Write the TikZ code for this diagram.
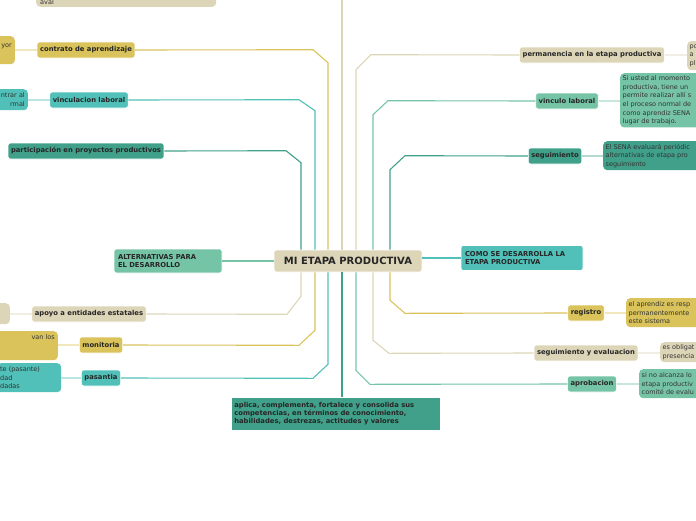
\documentclass[tikz,border=0pt]{standalone}
\usepackage{fontspec}
\setmainfont{DejaVu Sans}
\usepackage{tikz}
\usetikzlibrary{positioning,calc}
\definecolor{tanc}{HTML}{DDD5B8}
\definecolor{ylwc}{HTML}{D9C35A}
\definecolor{tealc}{HTML}{50C0B8}
\definecolor{grnc}{HTML}{76C4A6}
\definecolor{dtealc}{HTML}{40A08A}
\tikzset{
  topic/.style={rectangle, rounded corners=2.5pt, fill=#1, draw=white, line width=0.6pt, inner sep=3pt, font=\fontsize{6.8}{8}\selectfont\bfseries, text=black!85},
  leaf/.style={rectangle, rounded corners=4pt, fill=#1, inner sep=2.5pt, font=\fontsize{6.5}{8.6}\selectfont, text=black!80},
  link/.style={draw=#1, line width=1.1pt},
  faint/.style={draw=#1!40, line width=1.4pt}
}
\begin{document}
\begin{tikzpicture}[x=1pt, y=-1pt]
  \useasboundingbox (0,0) rectangle (696,520);
  \clip (0,0) rectangle (696,520);
  % Central topic
  \node [topic=tanc, minimum width=148pt, minimum height=22pt, font=\fontsize{10}{12}\selectfont\bfseries] (root) at (348,261) {MI ETAPA PRODUCTIVA};
  \node [topic=grnc, minimum width=108pt, minimum height=24pt, align=flush left, text width=100pt] (alt) at (168,261) {ALTERNATIVAS PARA\\EL DESARROLLO};
  \node [topic=tealc, minimum width=122pt, minimum height=25pt, align=flush left, text width=114pt] (como) at (522,258) {COMO SE DESARROLLA LA\\ETAPA PRODUCTIVA};
  \node [topic=dtealc, anchor=north west, minimum width=209pt, minimum height=33pt, align=flush left, text width=203pt, rounded corners=0pt] (bot) at (231,397) {aplica, complementa, fortalece y consolida sus competencias, en términos de conocimiento, habilidades, destrezas, actitudes y valores};
  \node [leaf=tanc, anchor=south west, minimum width=180pt, align=flush left, text width=172pt] (aval) at (36,7) {\phantom{x}\\aval};

  % Left branches
  \node [topic=ylwc, minimum height=16pt] (contrato) at (86,50) {contrato de aprendizaje};
  \node [topic=tealc, minimum height=16pt] (vinc) at (89,100) {vinculacion laboral};
  \node [topic=dtealc, minimum height=16pt] (proy) at (86,151) {participación en proyectos productivos};
  \node [topic=tanc, minimum height=16pt] (apoyo) at (89,314) {apoyo a entidades estatales};
  \node [topic=ylwc, minimum height=16pt] (monit) at (101,345) {monitoria};
  \node [topic=tealc, minimum height=16pt] (pasan) at (101,378) {pasantia};

  % Right branches
  \node [topic=tanc, minimum height=16pt] (perm) at (592,55) {permanencia en la etapa productiva};
  \node [topic=grnc, minimum height=16pt] (vlab) at (567,101) {vinculo laboral};
  \node [topic=dtealc, minimum height=16pt] (segui) at (555,156) {seguimiento};
  \node [topic=ylwc, minimum height=16pt] (regis) at (586,313) {registro};
  \node [topic=tanc, minimum height=16pt] (seval) at (586,353) {seguimiento y evaluacion};
  \node [topic=grnc, minimum height=16pt] (aprob) at (592,384) {aprobacion};

  % Leaves
  \node [leaf=ylwc, anchor=north east, minimum width=40pt, minimum height=28pt, align=right, text width=34pt] (contratoL) at (15,36) {yor\\\phantom{x}};
  \node [leaf=tealc, anchor=north east, minimum width=40pt, minimum height=21pt, align=right, text width=34pt] (vincL) at (28,89) {ntrar al\\rmal};
  \node [leaf=tanc, anchor=north east, minimum width=30pt, minimum height=21pt] (apoyoL) at (10,303) {};
  \node [leaf=ylwc, anchor=north east, minimum width=64pt, minimum height=29pt, align=right, text width=58pt] (monitL) at (58,331) {van los\hspace{36pt}\\\phantom{x}\\\phantom{x}};
  \node [leaf=tealc, anchor=north west, minimum width=64pt, minimum height=29pt, align=flush left, text width=58pt] (pasanL) at (-3,363) {te (pasante)\\dad\\dadas};
  \node [leaf=tanc, anchor=north west, minimum height=29pt, align=flush left, text width=40pt] (permL) at (687,41) {po\\a\\pl};
  \node [leaf=grnc, anchor=north west, minimum height=54pt, align=flush left, text width=90pt] (vlabL) at (620,73) {Si usted al momento\\productiva, tiene un\\permite realizar allí s\\el proceso normal de\\como aprendiz SENA\\lugar de trabajo.};
  \node [leaf=dtealc, anchor=north west, minimum height=29pt, align=flush left, text width=100pt] (seguiL) at (603,141) {El SENA evaluará periódic\\alternativas de etapa pro\\seguimiento};
  \node [leaf=ylwc, anchor=north west, minimum height=29pt, align=flush left, text width=90pt] (regisL) at (626,298) {el aprendiz es resp\\permanentemente\\este sistema};
  \node [leaf=tanc, anchor=north west, minimum height=20pt, align=flush left, text width=60pt] (sevalL) at (660,342) {es obligat\\presencia};
  \node [leaf=grnc, anchor=north west, minimum height=29pt, align=flush left, text width=80pt] (aprobL) at (639,369) {si no alcanza lo\\etapa productiv\\comité de evalu};

  % Main connectors
  \draw [link=grnc] (root.west) -- (alt.east);
  \draw [link=tealc] (root.east |- como.west) -- (como.west);
  \draw [link=tanc] ([xshift=-6pt]root.north) -- ++(0,-270);
  \draw [link=dtealc] ([xshift=-6pt]root.south) -- ([xshift=-6pt]root.south |- bot.north);
  \draw [link=ylwc] ([xshift=-20pt]root.north) -- ++(0,-187) -- ++(-15,-13) -- (contrato.east);
  \draw [link=tealc] ([xshift=-33pt]root.north) -- ++(0,-139) -- ++(-16,-11) -- (vinc.east);
  \draw [link=dtealc] ([xshift=-47pt]root.north) -- ++(0,-87) -- ++(-15,-12) -- (proy.east);
  \draw [link=tanc] ([xshift=-47pt]root.south) -- ++(0,24) -- ++(-14,18) -- (apoyo.east);
  \draw [link=ylwc] ([xshift=-33pt]root.south) -- ++(0,58) -- ++(-16,15) -- (monit.east);
  \draw [link=tealc] ([xshift=-20pt]root.south) -- ++(0,92) -- ++(-15,14) -- (pasan.east);
  \draw [link=tanc] ([xshift=8pt]root.north) -- ++(0,-180) -- ++(15,-15) -- (perm.west);
  \draw [link=grnc] ([xshift=25pt]root.north) -- ++(0,-135) -- ++(15,-14) -- (vlab.west);
  \draw [link=dtealc] ([xshift=42pt]root.north) -- ++(0,-80) -- ++(15,-14) -- (segui.west);
  \draw [link=ylwc] ([xshift=42pt]root.south) -- ++(0,28) -- ++(15,13) -- (regis.west);
  \draw [link=tanc] ([xshift=25pt]root.south) -- ++(0,68) -- ++(16,13) -- (seval.west);
  \draw [link=grnc] ([xshift=8pt]root.south) -- ++(0,98) -- ++(14,14) -- (aprob.west);

  % Leaf connectors
  \draw [faint=ylwc] (contrato.west) -- (contrato.west -| contratoL.east);
  \draw [faint=tealc] (vinc.west) -- (vinc.west -| vincL.east);
  \draw [faint=tanc] (apoyo.west) -- (apoyo.west -| apoyoL.east);
  \draw [faint=ylwc] (monit.west) -- (monit.west -| monitL.east);
  \draw [faint=tealc] (pasan.west) -- (pasan.west -| pasanL.east);
  \draw [faint=tanc] (perm.east) -- (perm.east -| permL.west);
  \draw [faint=grnc] (vlab.east) -- (vlab.east -| vlabL.west);
  \draw [faint=dtealc] (segui.east) -- (segui.east -| seguiL.west);
  \draw [faint=ylwc] (regis.east) -- (regis.east -| regisL.west);
  \draw [faint=tanc] (seval.east) -- (seval.east -| sevalL.west);
  \draw [faint=grnc] (aprob.east) -- (aprob.east -| aprobL.west);
\end{tikzpicture}
\end{document}
